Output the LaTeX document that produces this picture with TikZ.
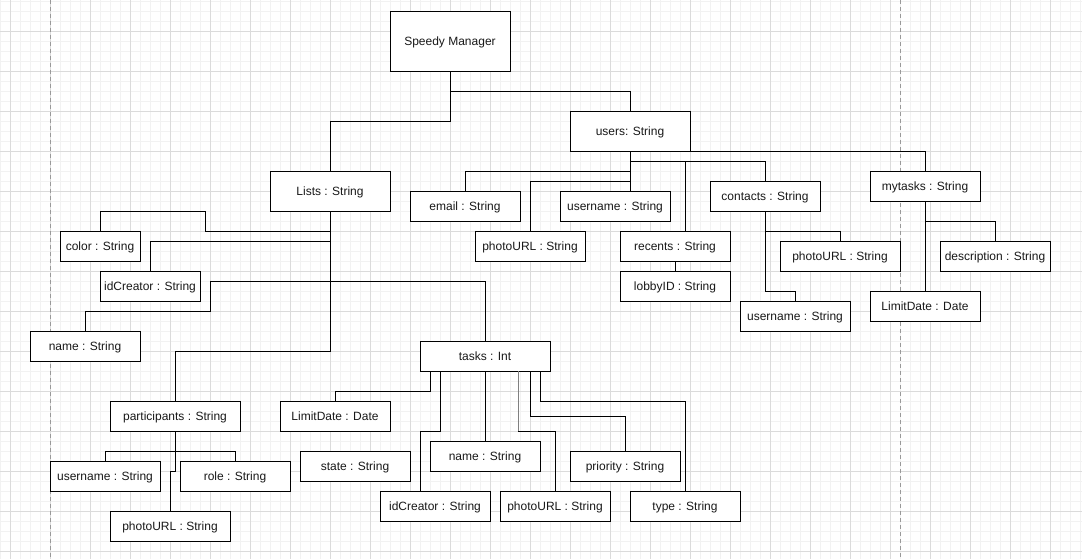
\documentclass[tikz,border=0pt]{standalone}
\usepackage{fontspec}
\setmainfont{Liberation Sans}
\begin{document}
\begin{tikzpicture}[x=1pt,y=-1pt,
  bx/.style={draw=black,line width=0.9pt,fill=white,inner sep=0pt,minimum height=30pt,minimum width=110pt,text height=9pt,text depth=0.4pt,font=\fontsize{12}{14}\selectfont,text=black!90},
  conn/.style={draw=black,line width=0.9pt},
  minorgrid/.style={draw=black!5,line width=0.6pt},
  majorgrid/.style={draw=black!14,line width=0.8pt}]
\useasboundingbox (0,0) rectangle (1082,559);
\fill[white] (0,0) rectangle (1082,559);
% grid
\foreach \x in {0,10,...,1080} \draw[minorgrid] (\x,0) -- (\x,559);
\foreach \y in {1,11,...,551} \draw[minorgrid] (0,\y) -- (1082,\y);
\foreach \x in {10,50,...,1050} \draw[majorgrid] (\x,0) -- (\x,559);
\foreach \y in {31,71,...,551} \draw[majorgrid] (0,\y) -- (1082,\y);
\draw[black!40,line width=0.8pt,dash pattern=on 4pt off 3pt] (50,0) -- (50,559);
\draw[black!40,line width=0.8pt,dash pattern=on 4pt off 3pt] (900,0) -- (900,559);

% nodes
\node[bx,minimum width=120pt,minimum height=60pt] (sm) at (450,41) {Speedy Manager};
\node[bx,minimum width=120pt,minimum height=40pt] (users) at (630,131) {users: String};
\node[bx,minimum width=120pt,minimum height=40pt] (lists) at (330,191) {Lists : String};

\node[bx,minimum width=80pt] (color) at (100,246) {color : String};
\node[bx,minimum width=100pt] (idc) at (150,286) {idCreator : String};
\node[bx] (name) at (85,346) {name : String};
\node[bx,minimum width=130pt] (part) at (175,416) {participants : String};
\node[bx] (pu) at (105,476) {username : String};
\node[bx] (role) at (235,476) {role : String};
\node[bx,minimum width=120pt] (pp) at (170,526) {photoURL : String};

\node[bx,minimum width=130pt] (tasks) at (485,356) {tasks : Int};
\node[bx] (tlimit) at (335,416) {LimitDate : Date};
\node[bx] (state) at (355,466) {state : String};
\node[bx] (tidc) at (435,506) {idCreator : String};
\node[bx] (tname) at (485,456) {name : String};
\node[bx] (tphoto) at (555,506) {photoURL : String};
\node[bx] (prio) at (625,466) {priority : String};
\node[bx] (type) at (685,506) {type : String};

\node[bx] (email) at (465,206) {email : String};
\node[bx] (uphoto) at (530,246) {photoURL : String};
\node[bx] (uname) at (615,206) {username : String};
\node[bx] (recents) at (675,246) {recents : String};
\node[bx] (lobby) at (675,286) {lobbyID : String};
\node[bx] (contacts) at (765,196) {contacts : String};
\node[bx,minimum width=120pt] (cphoto) at (840,256) {photoURL : String};
\node[bx] (cuser) at (795,316) {username : String};
\node[bx] (mytasks) at (925,186) {mytasks : String};
\node[bx] (desc) at (995,256) {description : String};
\node[bx] (mlimit) at (925,306) {LimitDate : Date};

% connectors
\draw[conn] (sm.south) -- ++(0,20) -| (users.north);
\draw[conn] (sm.south) -- ++(0,50) -| (lists.north);

\draw[conn] (lists.south) -- ++(0,20) -- ++(-125,0) -- ++(0,-20) -| (color.north);
\draw[conn] (lists.south) -- ++(0,30) -| (idc.north);
\draw[conn] (lists.south) -- ++(0,70) -| (tasks.north);
\draw[conn] (lists.south) -- ++(0,70) -- ++(-120,0) -- ++(0,30) -| (name.north);
\draw[conn] (lists.south) -- ++(0,140) -| (part.north);

\draw[conn] (part.south) -- ++(0,20) -| (pu.north);
\draw[conn] (part.south) -- ++(0,20) -| (role.north);
\draw[conn] (part.south) -- ++(0,40) -| (pp.north);

\draw[conn] ([xshift=-55pt]tasks.south) -- ++(0,20) -| (tlimit.north);
\draw[conn] ([xshift=-45pt]tasks.south) -- ++(0,60) -| ([xshift=-15pt]tidc.north);
\draw[conn] (tasks.south) -- (tname.north);
\draw[conn] ([xshift=33pt]tasks.south) -- ++(0,60) -| (tphoto.north);
\draw[draw=black!50,line width=0.9pt] ([xshift=33pt]tasks.south) -- ++(0,60);
\draw[conn] ([xshift=45pt]tasks.south) -- ++(0,45) -| (prio.north);
\draw[conn] ([xshift=55pt]tasks.south) -- ++(0,30) -| (type.north);

\draw[conn] (users.south) -- ++(0,20) -| (email.north);
\draw[conn] (users.south) -- ++(0,30) -| (uphoto.north);
\draw[conn] (users.south) -- (users.south |- uname.north);
\draw[conn] (users.south) -- ++(0,10) -| ([xshift=10pt]recents.north);
\draw[conn] (users.south) -- ++(0,10) -| (contacts.north);
\draw[conn] (users.south) -| (mytasks.north);
\draw[conn] (recents.south) -- (lobby.north);

\draw[conn] (contacts.south) -- ++(0,20) -| (cphoto.north);
\draw[conn] (contacts.south) -- ++(0,80) -| (cuser.north);

\draw[conn] (mytasks.south) -- ++(0,20) -| (desc.north);
\draw[conn] (mytasks.south) -- (mlimit.north);
\end{tikzpicture}
\end{document}
